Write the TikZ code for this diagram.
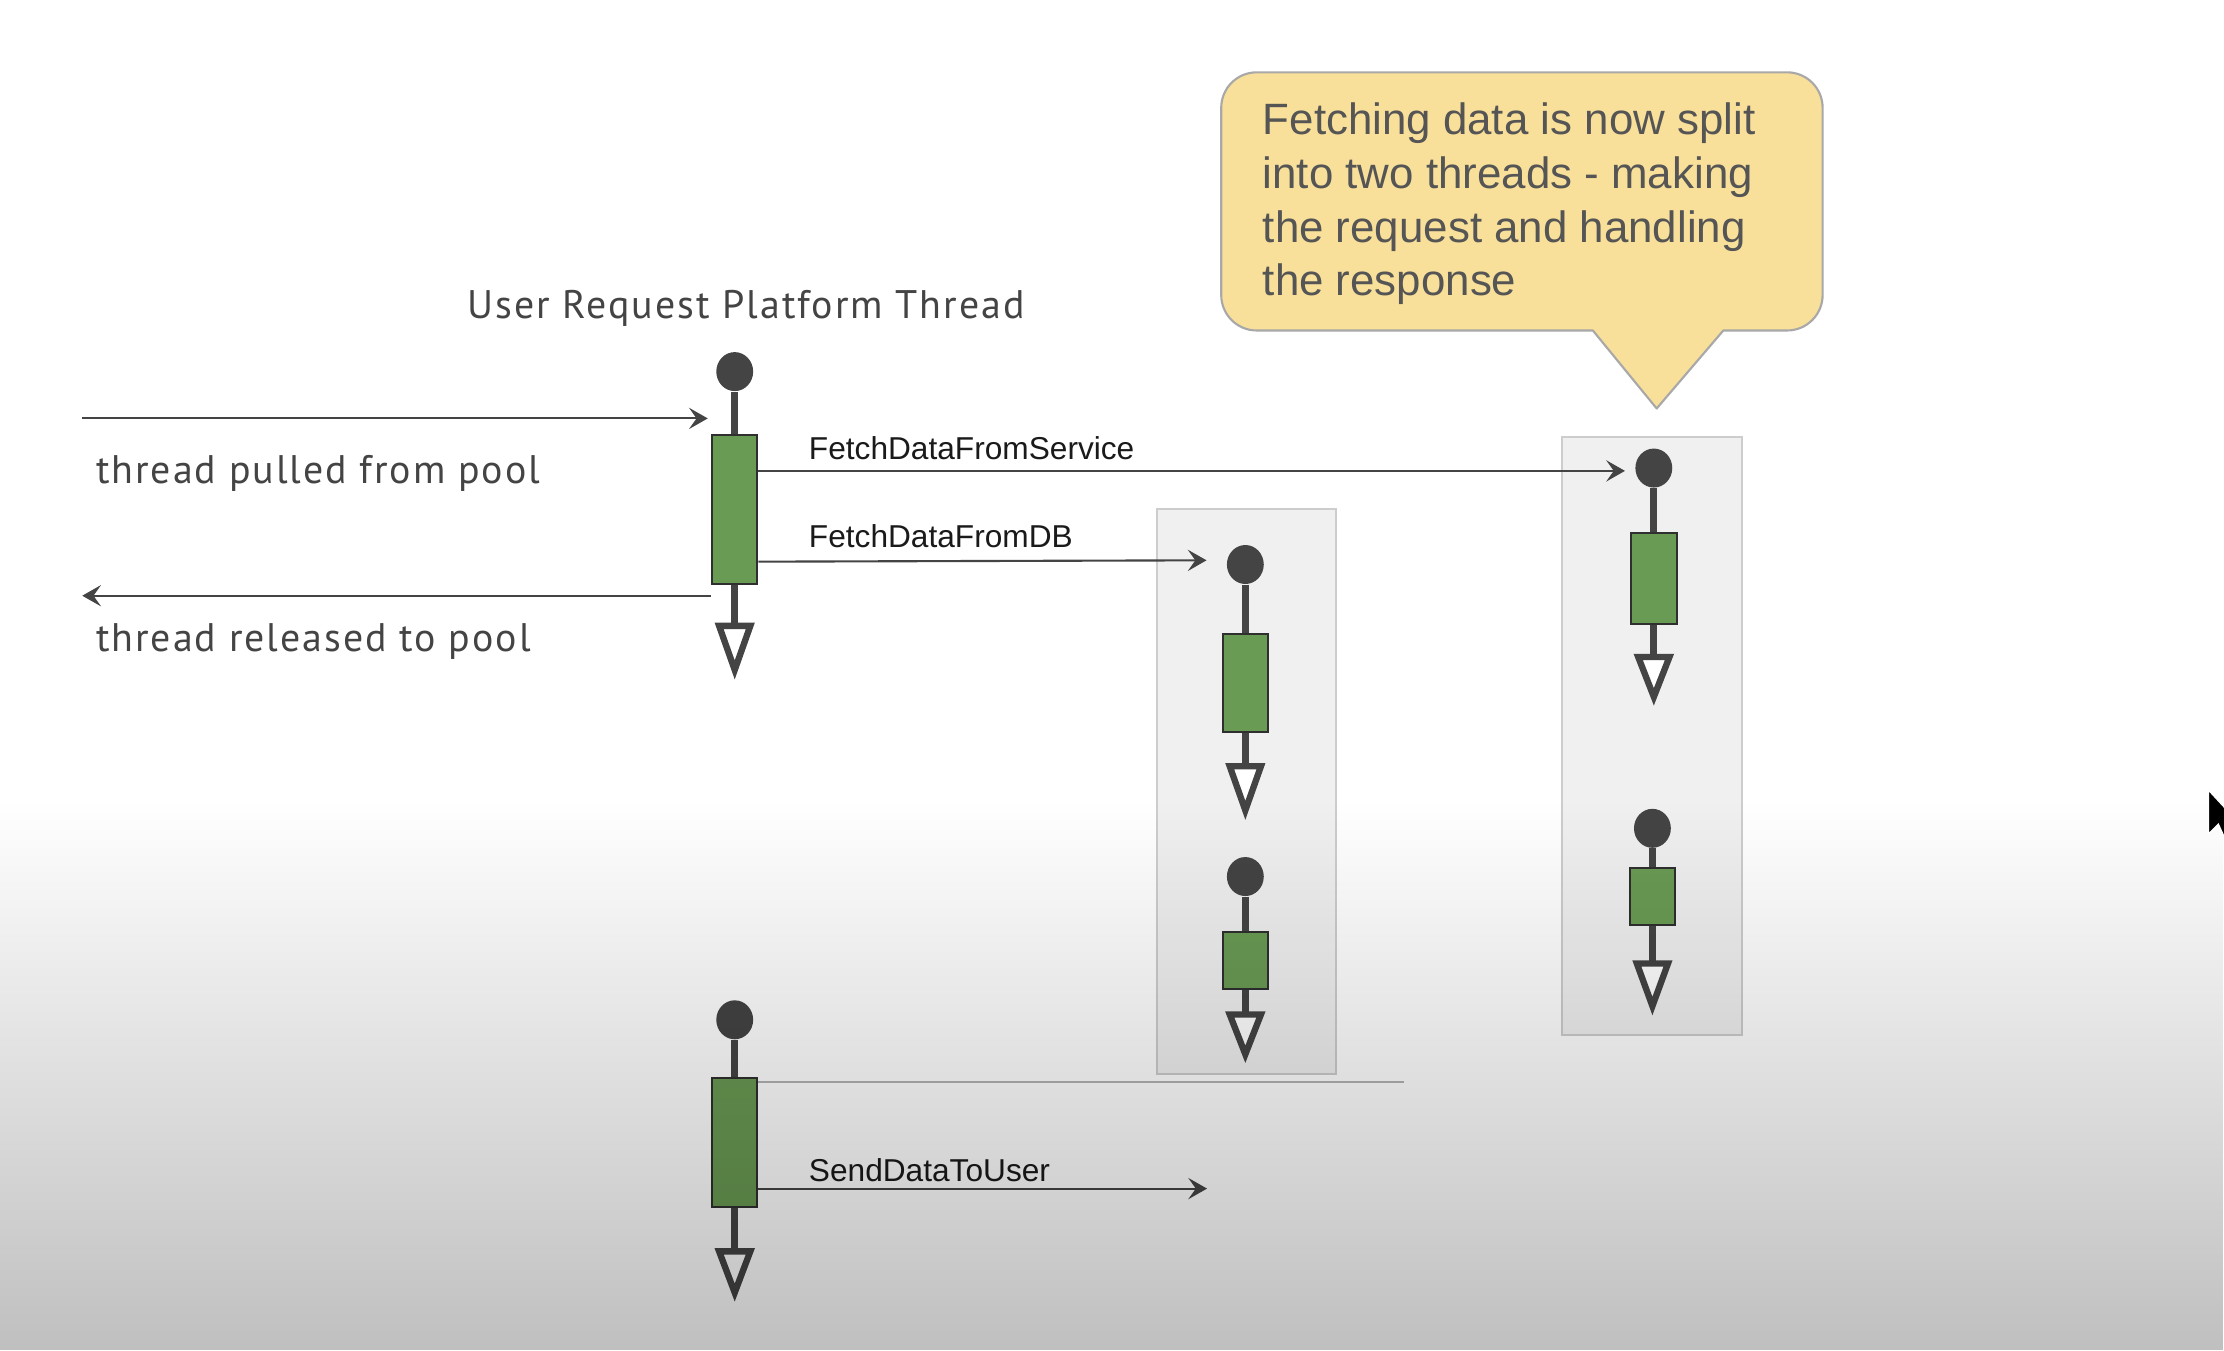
\documentclass[tikz,border=0pt]{standalone}
\usepackage{fontspec}
\setmainfont{Liberation Sans}
\newfontfamily\handfont[LetterSpace=5]{PT Sans}
\usetikzlibrary{shapes.geometric,arrows.meta,fadings}
\definecolor{ink}{HTML}{444444}
\definecolor{boxline}{HTML}{2F2F2F}
\definecolor{actgreen}{HTML}{6A9B54}
\definecolor{panelfill}{HTML}{F0F0F0}
\definecolor{panelline}{HTML}{CDCDCD}
\definecolor{notefill}{HTML}{F9E09A}
\definecolor{noteline}{HTML}{A8A8A8}
\definecolor{notetext}{HTML}{555555}
\definecolor{labeltext}{HTML}{1A1A1A}
\definecolor{handtext}{HTML}{444444}
\definecolor{faintline}{HTML}{B4B4B4}
\tikzset{
  lifeline/.style={draw=ink, line width=2.85pt},
  headdot/.style={ellipse, fill=ink, draw=none, minimum width=0.52cm, minimum height=0.55cm, inner sep=0pt},
  actbox/.style={rectangle, draw=boxline, fill=actgreen, line width=0.8pt, minimum width=0.64cm, inner sep=0pt},
  endtri/.style={draw=ink, fill=white, line width=2.55pt, line join=miter},
  msg/.style={draw=ink, line width=0.85pt, -{Stealth[length=7.5pt,width=8.5pt,inset=3pt]}},
  panel/.style={rectangle, draw=panelline, fill=panelfill, line width=0.85pt, inner sep=0pt},
  lbl/.style={font=\fontsize{12.7}{15}\selectfont, text=labeltext, inner sep=0pt, anchor=base west},
  hand/.style={font=\handfont\fontsize{16}{19}\selectfont, text=handtext, inner sep=0pt},
  callout/.style={draw=noteline, fill=notefill, line width=0.85pt, line join=round},
}
% lifeline: name, x, circle y, rect top, rect bottom, triangle top, triangle tip
\newcommand{\lifeln}[7]{%
  \node[headdot] (#1c) at (#2,#3) {};
  \node[actbox, minimum height={(#5-#4)*0.02cm}] (#1r) at (#2,{(#4+#5)/2}) {};
  \coordinate (#1b) at (#2,{#6+2.25});
  \coordinate (#1t) at (#2,{#7-6.7});
  \draw[lifeline] (#1c) -- (#1r.north);
  \draw[lifeline] (#1r.south) -- (#1b);
  \draw[endtri] ([xshift=-0.22cm]#1b) -- ([xshift=0.22cm]#1b) -- (#1t) -- cycle;
}
\begin{document}
\begin{tikzpicture}[x=0.02cm, y=-0.02cm]
\useasboundingbox (0,0) rectangle (1568,952);
\fill[white] (0,0) rectangle (1568,952);

% panels
\node[panel, minimum width=2.52cm, minimum height=7.96cm] (dbpanel) at (879,558) {};
\node[panel, minimum width=2.54cm, minimum height=8.44cm] (svcpanel) at (1164.5,519) {};

% title and side labels
\node[hand, anchor=base] (title) at (526,224.4) {User Request Platform Thread};
\node[hand, anchor=base west] (pulled) at (67.4,340.8) {thread pulled from pool};
\node[hand, anchor=base west] (released) at (67.4,459.5) {thread released to pool};

% lifelines
\lifeln{m}{518}{262}{307}{412}{439}{479}
\lifeln{d}{878}{398}{447}{516}{538}{578}
\lifeln{e}{878}{618}{657}{697}{713}{750}
\lifeln{s}{1166}{330}{376}{440}{461}{498}
\lifeln{t}{1165}{584}{612}{652}{677}{716}
\lifeln{u}{518}{719}{760}{851}{880}{918}

% pool arrows
\coordinate (inS) at (58,295);
\coordinate (inE) at (499,295);
\draw[msg] (inS) -- (inE);
\coordinate (outS) at (501,420);
\coordinate (outE) at (58,420);
\draw[msg] (outS) -- (outE);

% messages
\draw[msg, shorten >=0.14cm] (mr.east |- 0,332) -- (sc.west |- 0,332);
\node[lbl] (lsvc) at (570,324) {FetchDataFromService};
\draw[msg, shorten >=0.28cm] (mr.east |- 0,396) -- (dc.west |- 0,395);
\node[lbl] (ldb) at (570,386) {FetchDataFromDB};

\coordinate (faintEnd) at (990,763);
\draw[faintline, line width=0.8pt] (ur.east |- faintEnd) -- (faintEnd);
\coordinate (sendEnd) at (851,838);
\draw[msg] (ur.east |- sendEnd) -- (sendEnd);
\node[lbl] (lsend) at (570,833) {SendDataToUser};

% callout
\draw[callout] (1000,233) [rounded corners=0.5cm] -- (861,233) -- (861,51) -- (1285,51) -- (1285,233) [sharp corners] -- (1215,233) -- (1168,288) -- (1123,233) -- cycle;
\node[anchor=north west, align=left, inner sep=0pt, font=\fontsize{17.6}{21.6}\selectfont, text=notetext] (note) at (890,72) {Fetching data is now split\\into two threads - making\\the request and handling\\the response};

% bottom darkening overlay
\begin{scope}
\clip (0,0) rectangle (1568,952);
\fill[black, fill opacity=0.25, path fading=north] (0,565) rectangle (1568,952);
\end{scope}

% mouse pointer at right edge
\fill[black, draw=white, line width=0.5pt] (1557,557) -- (1557,588) -- (1564,581) -- (1569,592) -- (1569,570) -- cycle;
\end{tikzpicture}
\end{document}
